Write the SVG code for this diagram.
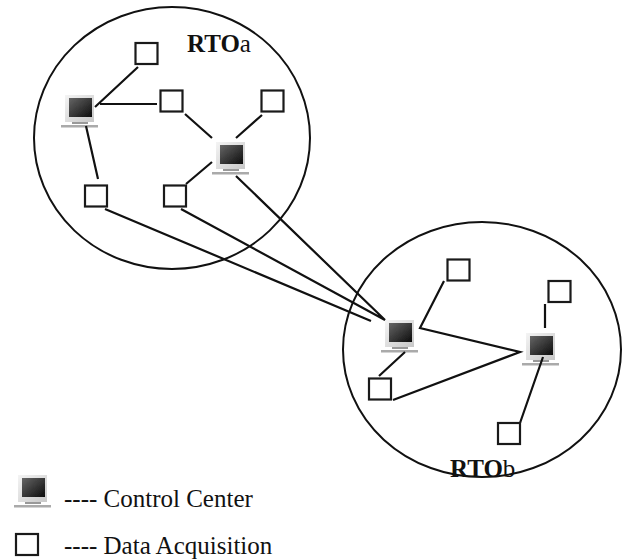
<svg xmlns="http://www.w3.org/2000/svg" width="623" height="559" viewBox="0 0 623 559">
<style>
.c{fill:none;stroke:#111;stroke-width:2}
.l{fill:none;stroke:#111;stroke-width:2.2;stroke-linecap:butt;stroke-linejoin:miter}
.s{fill:#fff;stroke:#1a1a1a;stroke-width:2.2}
.t{font-family:"Liberation Serif","Times New Roman",serif;fill:#111}
.h{font-size:25px}
.g{font-size:25px}
</style>
<defs>
<filter id="b" x="-20%" y="-20%" width="140%" height="140%"><feGaussianBlur stdDeviation="0.6"/></filter>
<linearGradient id="sc" x1="0" y1="0" x2="1" y2="1"><stop offset="0" stop-color="#666"/><stop offset="1" stop-color="#0c0c0c"/></linearGradient>
<linearGradient id="bd" x1="0" y1="0" x2="1" y2="1"><stop offset="0" stop-color="#f4f4f4"/><stop offset="1" stop-color="#c8c8c8"/></linearGradient>
<g id="pc" filter="url(#b)">
<rect x="0" y="0" width="29" height="27" fill="url(#bd)"/>
<rect x="4" y="3" width="23" height="19" fill="url(#sc)"/>
<rect x="7" y="27" width="16" height="2" fill="#999"/>
<rect x="-4" y="30" width="37" height="2.5" fill="#aaa"/>
</g>
<rect id="sq" width="22" height="21" class="s"/>
</defs>
<rect width="623" height="559" fill="#fff"/>
<g id="regions">
<ellipse cx="172" cy="138" rx="138" ry="131" class="c"/>
<ellipse cx="482" cy="349.5" rx="139" ry="127.5" class="c"/>
</g>
<g id="cc1"><use href="#pc" x="65" y="95"/></g>
<g id="cc2"><use href="#pc" x="216" y="142"/></g>
<g id="cc3"><use href="#pc" x="385" y="320"/></g>
<g id="cc4"><use href="#pc" x="526" y="333"/></g>
<g id="connectors">
<path class="l" d="M138 67L95 107M100 104H157M185 114L212 138M262 115L236 138M86 126L98 179M186 184L212 162"/>
<path class="l" d="M105 209L371 321M181 209L385 320L236 176"/>
<path class="l" d="M444 281L420 328L520 352L393 400M405 352L379 376M545 304V328M543 357L520 423"/>
</g>
<g id="da1"><use href="#sq" x="135.500" y="43"/></g>
<g id="da2"><use href="#sq" x="160.500" y="90.500"/></g>
<g id="da3"><use href="#sq" x="261.500" y="90.500"/></g>
<g id="da4"><use href="#sq" x="85" y="185.500"/></g>
<g id="da5"><use href="#sq" x="164" y="185.500"/></g>
<g id="da6"><use href="#sq" x="447.500" y="259.500"/></g>
<g id="da7"><use href="#sq" x="548.500" y="281"/></g>
<g id="da8"><use href="#sq" x="369" y="378.500"/></g>
<g id="da9"><use href="#sq" x="498" y="423"/></g>
<text class="t h" x="187" y="52"><tspan font-weight="bold">RTO</tspan>a</text>
<text class="t h" x="450" y="477"><tspan font-weight="bold">RTO</tspan>b</text>
<g id="legend-cc"><use href="#pc" x="18" y="475"/></g>
<text class="t g" x="64" y="507">---- Control Center</text>
<g id="legend-da"><use href="#sq" x="16" y="534"/></g>
<text class="t g" x="64" y="554">---- Data Acquisition</text>
</svg>
